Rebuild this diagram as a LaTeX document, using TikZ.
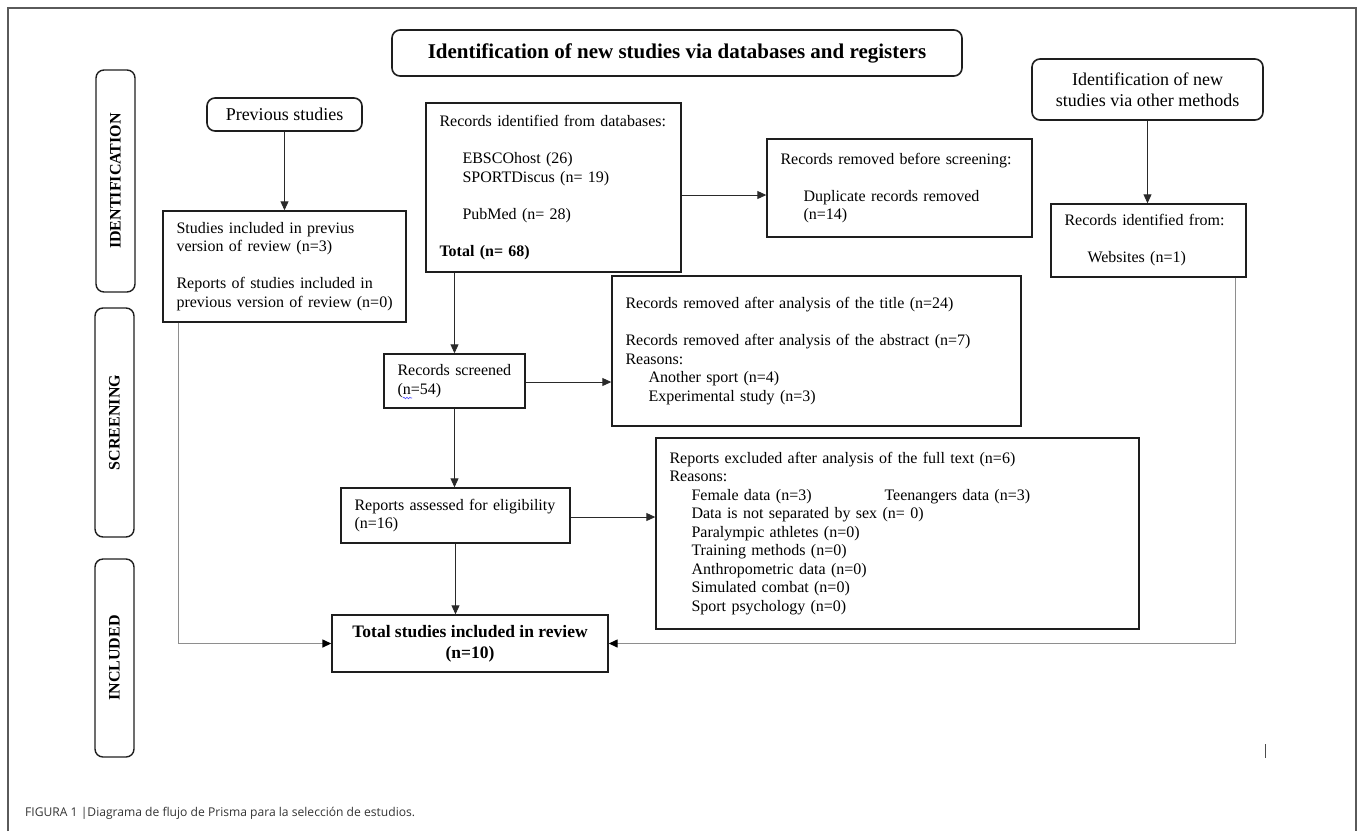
\documentclass[tikz,border=0pt]{standalone}
\usepackage{fontspec}
\setmainfont{Liberation Serif}
\newfontfamily\capfont{Open Sans}
\usetikzlibrary{arrows.meta,decorations.pathmorphing}
\definecolor{boxc}{HTML}{1E1E1E}
\definecolor{linec}{HTML}{2A2A2A}
\definecolor{grayline}{HTML}{8E8E8E}
\definecolor{framec}{HTML}{5A5A5A}
\begin{document}
\begin{tikzpicture}[x=1pt,y=-1pt,
  box/.style={draw=boxc, line width=1.4pt, inner xsep=13.5pt, inner ysep=0pt,
    align=left, font=\fontsize{16}{18.5}\selectfont},
  rbox/.style={draw=boxc, line width=1.6pt, rounded corners=8pt, inner sep=0pt, align=center},
  sidebox/.style={draw=boxc, line width=1.4pt, rounded corners=8pt, inner sep=0pt,
    rotate=90, minimum height=39pt, font=\bfseries\fontsize{16}{18}\selectfont},
  arr/.style={draw=linec, line width=0.9pt, -{Triangle[length=9pt,width=8pt]}},
  garr/.style={draw=grayline, line width=1.4pt, -{Triangle[length=9pt,width=8pt,fill=black,color=black]}},
]
\useasboundingbox (0,0) rectangle (1357,831);
% outer frame
\draw[framec, line width=1.1pt] (8,831) -- (8,8) -- (1356,8) -- (1356,831);

% title boxes
\node[rbox, minimum width=570pt, minimum height=46pt, font=\bfseries\fontsize{21}{24}\selectfont]
  (title) at (677,53) {Identification of new studies via databases and registers};
\node[rbox, minimum width=155pt, minimum height=33pt, font=\fontsize{18}{21}\selectfont]
  (prev) at (284.5,114.5) {Previous studies};
\node[rbox, minimum width=231pt, minimum height=61pt, font=\fontsize{18}{21}\selectfont]
  (other) at (1147.5,89.5) {Identification of new\\studies via other methods};

% side labels
\node[sidebox, minimum width=222pt] (idl) at (115.5,181) {IDENTIFICATION};
\node[sidebox, minimum width=229pt] (scl) at (114.5,422.5) {SCREENING};
\node[sidebox, minimum width=198pt] (inl) at (114.5,658) {INCLUDED};

% content boxes
\node[box, minimum width=255pt, minimum height=169pt, text width=228pt] (db) at (553.5,187.5)
  {Records identified from databases:\\[18.5pt]
   \hspace*{23pt}EBSCOhost (26)\\
   \hspace*{23pt}SPORTDiscus (n= 19)\\[18.5pt]
   \hspace*{23pt}PubMed (n= 28)\\[18.5pt]
   \textbf{Total (n= 68)}};

\node[box, minimum width=265pt, minimum height=98pt, text width=238pt] (rem1) at (899.5,188)
  {Records removed before screening:\\[18.5pt]
   \hspace*{23pt}Duplicate records removed\\
   \hspace*{23pt}(n=14)};

\node[box, minimum width=195pt, minimum height=73pt, text width=168pt] (web) at (1148.5,240.5)
  {Records identified from:\\[18.5pt]
   \hspace*{23pt}Websites (n=1)};

\node[box, minimum width=243pt, minimum height=111pt, text width=216pt] (prevbox) at (284.5,266.5)
  {Studies included in previus\\
   version of review (n=3)\\[18.5pt]
   Reports of studies included in\\
   \mbox{previous version of review (n=0)}};

\node[box, minimum width=409pt, minimum height=150pt, text width=382pt] (remt) at (816.5,351)
  {Records removed after analysis of the title (n=24)\\[18.5pt]
   Records removed after analysis of the abstract (n=7)\\
   Reasons:\\
   \hspace*{23pt}Another sport (n=4)\\
   \hspace*{23pt}Experimental study (n=3)};

\node[box, minimum width=141pt, minimum height=54pt, text width=114pt] (scr) at (454.5,381)
  {\mbox{Records screened}\\(n=54)};

\node[box, minimum width=229pt, minimum height=55pt, text width=202pt] (rep) at (455.5,515.5)
  {\mbox{Reports assessed for eligibility}\\(n=16)};

\node[box, minimum width=483pt, minimum height=191pt, text width=456pt] (exc) at (897.5,533.5)
  {Reports excluded after analysis of the full text (n=6)\\
   Reasons:\\
   \hspace*{22pt}\makebox[193pt][l]{Female data (n=3)}Teenangers data (n=3)\\
   \hspace*{22pt}Data is not separated by sex (n= 0)\\
   \hspace*{22pt}Paralympic athletes (n=0)\\
   \hspace*{22pt}Training methods (n=0)\\
   \hspace*{22pt}Anthropometric data (n=0)\\
   \hspace*{22pt}Simulated combat (n=0)\\
   \hspace*{22pt}Sport psychology (n=0)};

\node[box, minimum width=276pt, minimum height=57pt, inner xsep=0pt, align=center,
  font=\bfseries\fontsize{17.5}{21}\selectfont] (tot) at (470,643.5)
  {Total studies included in review\\(n=10)};

% spell-check squiggle under n
\coordinate (sq1) at (403,398);
\coordinate (sq2) at (412,398);
\draw[blue!70, line width=0.6pt, decorate, decoration={snake, amplitude=0.8pt, segment length=3pt}] (sq1) -- (sq2);

% connectors
\draw[arr] (prev.south) -- (prevbox.north);
\draw[arr] (scr.north |- db.south) -- (scr.north);
\draw[arr] ([yshift=-7.5pt]db.east) -- ([yshift=-7.5pt]db.east -| rem1.west);
\draw[arr] (other.south) -- (other.south |- web.north);
\draw[arr] ([yshift=-1pt]scr.east) -- ([yshift=-1pt]scr.east -| remt.west);
\draw[arr] (scr.south) -- (scr.south |- rep.north);
\draw[arr] ([yshift=-1.5pt]rep.east) -- ([yshift=-1.5pt]rep.east -| exc.west);
\draw[arr] (rep.south) -- (rep.south |- tot.north);
\draw[garr] ([xshift=16pt]prevbox.south west) |- (tot.west);
\draw[garr] ([xshift=-11pt]web.south east) |- (tot.east);

% stray cursor mark
\coordinate (m1) at (1265,744);
\coordinate (m2) at (1265,758);
\draw[black!70, line width=1pt] (m1) -- (m2);

% caption
\node[anchor=west, inner sep=0pt, text=black!80, font=\capfont\fontsize{12.1}{15}\selectfont]
  (cap) at (25,813) {FIGURA 1 |Diagrama de flujo de Prisma para la selección de estudios.};
\end{tikzpicture}
\end{document}
